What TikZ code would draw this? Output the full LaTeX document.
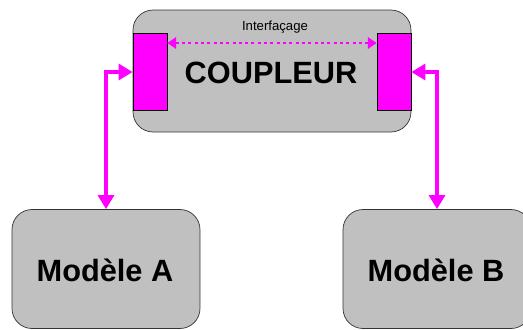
\documentclass[tikz,border=0pt]{standalone}
\usepackage{fontspec}
\setmainfont{Liberation Sans}
\usetikzlibrary{arrows.meta}
\definecolor{boxgray}{RGB}{192,192,192}
\definecolor{linkmag}{RGB}{255,0,255}
\tikzset{
  bloc/.style={draw=black!80,fill=boxgray,rounded corners=0.4cm,thin},
  port/.style={draw=black,fill=linkmag,thin,inner sep=0pt},
  lien/.style={draw=linkmag,line width=2.3pt,{Triangle[length=8pt,width=9pt]}-{Triangle[length=8pt,width=9pt]}},
  titre/.style={font=\bfseries\fontsize{17.5}{20}\selectfont}
}
\begin{document}
\begin{tikzpicture}[x=0.02cm,y=-0.02cm]
\useasboundingbox (0,0) rectangle (523,329);

% coupler and its two ports
\node[bloc,minimum width=5.56cm,minimum height=2.44cm] (coupleur) at (272,71) {};
\node[titre] (nomcoupleur) at (271,73) {COUPLEUR};
\node[port,minimum width=0.68cm,minimum height=1.54cm] (portL) at (150,72) {};
\node[port,minimum width=0.68cm,minimum height=1.54cm] (portR) at (394,72) {};

% interfacing between the ports
\node[font=\fontsize{7.5}{8}\selectfont,inner sep=1pt] (lab) at (275,27) {Interfaçage};
\coordinate (ifc) at (272,43);
\draw[draw=linkmag,line width=1.6pt,dash pattern=on 1.7pt off 1.9pt,{Triangle[length=5pt,width=6.5pt]}-{Triangle[length=5pt,width=6.5pt]}]
  (ifc -| portL.east) -- (ifc -| portR.west);

% models
\node[bloc,minimum width=3.76cm,minimum height=2.38cm] (modA) at (106,269) {};
\node[titre] (nomA) at (105,270) {Modèle A};
\node[bloc,minimum width=3.76cm,minimum height=2.38cm] (modB) at (437,269) {};
\node[titre] (nomB) at (436,270) {Modèle B};

% links
\draw[lien] (portL.west) -| (modA.north);
\draw[lien] (portR.east) -| (modB.north);
\end{tikzpicture}
\end{document}
